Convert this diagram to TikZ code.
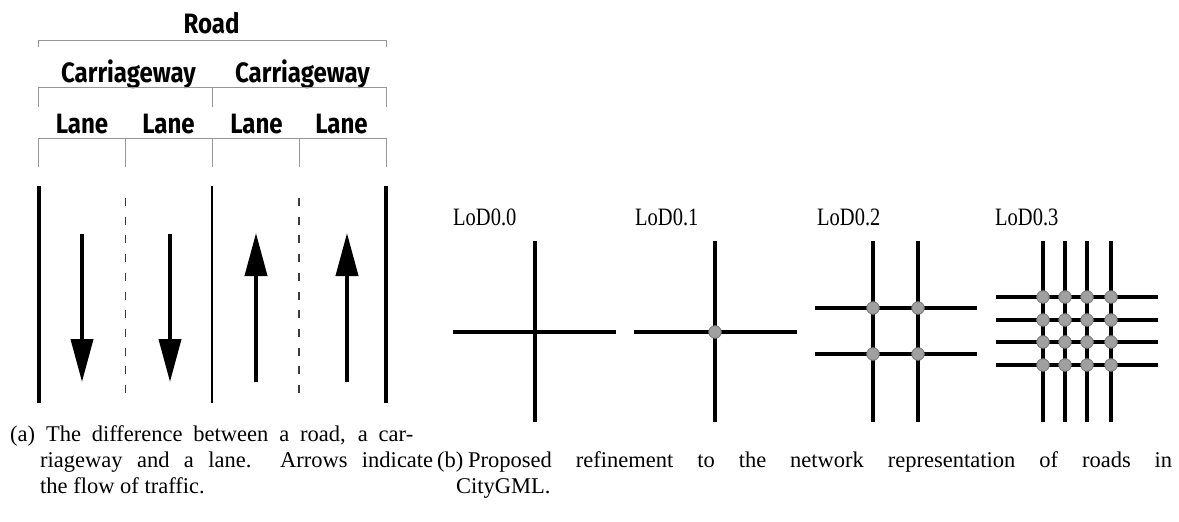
\documentclass[tikz,border=0pt]{standalone}
\usepackage{fontspec}
\setmainfont{Liberation Serif}
\newfontfamily\headfont[FakeStretch=0.86]{Fira Sans}
\newfontfamily\lodfont[FakeStretch=0.82]{Liberation Serif}
\usetikzlibrary{arrows.meta}
\definecolor{brk}{RGB}{150,150,150}
\definecolor{nodefill}{RGB}{160,160,160}
\definecolor{nodeline}{RGB}{125,125,125}
\tikzset{
  bracket/.style={draw=brk, line width=0.9pt},
  head/.style={font=\headfont\bfseries\fontsize{28}{30}\selectfont, inner sep=0pt, anchor=base},
  edgethick/.style={line width=4pt},
  edgethin/.style={line width=1.8pt},
  laneline/.style={line width=1.2pt, dash pattern=on 8pt off 10.7pt, draw={rgb,255:red,60;green,60;blue,60}},
  flow/.style={line width=4pt, -{Triangle[width=22pt,length=43pt]}},
  street/.style={line width=4pt},
  junction/.style={circle, inner sep=0pt, minimum size=12.5pt, fill=nodefill, draw=nodeline, line width=0.9pt},
  lod/.style={font=\lodfont\fontsize{25}{27}\selectfont, inner sep=0pt, anchor=base west},
  captext/.style={font=\fontsize{22.5}{26}\selectfont, inner sep=0pt, anchor=base west},
}
\begin{document}
\begin{tikzpicture}[x=1pt,y=-1pt]
\useasboundingbox (0,0) rectangle (1179,522);
% ---------- (a) headings ----------
\node[head] (road) at (211.5,33) {Road};
\node[head] (cw1) at (128.5,82) {Carriageway};
\node[head] (cw2) at (302.5,82) {Carriageway};
\node[head] (l1) at (82,133) {Lane};
\node[head] (l2) at (168.5,133) {Lane};
\node[head] (l3) at (256.5,133) {Lane};
\node[head] (l4) at (341.5,133) {Lane};
% brackets
\draw[bracket] (38.5,47) -- (38.5,40) -- (386,40) -- (386,47);
\draw[bracket] (38.5,107) -- (38.5,87.3) -- (386,87.3) -- (386,107);
\draw[bracket] (212,87.3) -- (212,107);
\draw[bracket] (38.5,166.5) -- (38.5,138.3) -- (386,138.3) -- (386,166.5);
\foreach \x in {125.5,212,299} \draw[bracket] (\x,138.3) -- (\x,166.5);
% road markings
\coordinate (e1t) at (38.5,186); \coordinate (e1b) at (38.5,403);
\coordinate (e2t) at (212,186);  \coordinate (e2b) at (212,403);
\coordinate (e3t) at (386,186);  \coordinate (e3b) at (386,403);
\coordinate (d1t) at (125.5,198); \coordinate (d1b) at (125.5,403);
\coordinate (d2t) at (299,198);   \coordinate (d2b) at (299,403);
\draw[edgethick] (e1t) -- (e1b);
\draw[edgethin] (e2t) -- (e2b);
\draw[edgethick] (e3t) -- (e3b);
\draw[laneline] (d1t) -- (d1b);
\draw[laneline] (d2t) -- (d2b);
% flow arrows
\coordinate (a1s) at (82,234);  \coordinate (a1e) at (82,382);
\coordinate (a2s) at (170,234); \coordinate (a2e) at (170,382);
\coordinate (a3s) at (256,382); \coordinate (a3e) at (256,233);
\coordinate (a4s) at (347,382); \coordinate (a4e) at (347,233);
\draw[flow] (a1s) -- (a1e);
\draw[flow] (a2s) -- (a2e);
\draw[flow] (a3s) -- (a3e);
\draw[flow] (a4s) -- (a4e);
% ---------- (b) LoD labels ----------
\node[lod] (lod0) at (453,225) {LoD0.0};
\node[lod] (lod1) at (635,225) {LoD0.1};
\node[lod] (lod2) at (817,225) {LoD0.2};
\node[lod] (lod3) at (995,225) {LoD0.3};
% LoD0.0
\draw[street] (535,241) -- (535,422);
\draw[street] (453,332) -- (616,332);
% LoD0.1
\draw[street] (715,241) -- (715,422);
\draw[street] (634,332) -- (797,332);
\node[junction] (j1) at (715,332) {};
% LoD0.2
\foreach \x in {873,918} \draw[street] (\x,241) -- (\x,422);
\foreach \y in {308,354} \draw[street] (815,\y) -- (977,\y);
\foreach \x in {873,918} \foreach \y in {308,354} \node[junction] at (\x,\y) {};
% LoD0.3
\foreach \x in {1043,1065,1087,1111} \draw[street] (\x,241) -- (\x,422);
\foreach \y in {297,320,342,365} \draw[street] (996,\y) -- (1158,\y);
\foreach \x in {1043,1065,1087,1111} \foreach \y in {297,320,342,365} \node[junction] at (\x,\y) {};
% ---------- captions ----------
\node[captext] (ca1) at (10,441) {\makebox[403pt][s]{(a) The difference between a road, a car-}};
\node[captext] (ca2) at (40,467) {\makebox[393pt][s]{riageway and a lane.\ \ Arrows indicate}};
\node[captext] (ca3) at (40,493) {the flow of traffic.};
\node[captext] (cb0) at (437,467) {(b)};
\node[captext] (cb1) at (468,467) {\makebox[704pt][s]{Proposed refinement to the network representation of roads in}};
\node[captext] (cb2) at (456,493) {CityGML.};
\end{tikzpicture}
\end{document}
